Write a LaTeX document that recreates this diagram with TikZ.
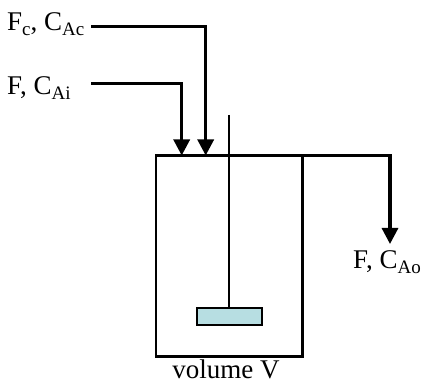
\documentclass[tikz,border=0pt]{standalone}
\usepackage{fontspec}
\setmainfont{Liberation Serif}
\usetikzlibrary{arrows.meta}

\newcommand{\lowsub}[1]{\raisebox{-5.5pt}{\fontsize{19}{19}\selectfont #1}}

\begin{document}
\begin{tikzpicture}[x=1pt,y=-1pt,
  flow/.style={line width=3.2pt,-{Triangle[width=16pt,length=16pt]}},
  thin/.style={line width=2.2pt},
  lbl/.style={font=\fontsize{27}{30}\selectfont,inner sep=0pt,anchor=base west}]

\useasboundingbox (0,0) rectangle (421,385);

\node [thin,draw,outer sep=0pt,minimum width=146.5pt,minimum height=201pt,inner sep=0pt] (tank) at (229.25,256) {};
\node [thin,draw,outer sep=0pt,fill={rgb,255:red,183;green,222;blue,226},minimum width=65pt,minimum height=17pt,inner sep=0pt] (paddle) at (229.2,316.5) {};

\node [lbl] (feedc) at (7,30.5) {F\lowsub{c}, C\lowsub{Ac}};
\node [lbl] (feed) at (7,94.3) {F, C\lowsub{Ai}};
\node [lbl] (prod) at (353,268.3) {F, C\lowsub{Ao}};
\node [lbl,anchor=base] (vol) at (226,378) {volume V};

\coordinate (shafttop) at (228.7,115);
\coordinate (feedcstart) at (91,26.7);
\coordinate (feedstart) at (91,83.3);
\coordinate (feedcin) at (205.7,155.5);
\coordinate (feedin) at (181.7,155.5);
\coordinate (prodout) at (390,244);

\draw[thin] (shafttop) -- (paddle.north -| shafttop);
\draw[flow] (feedcstart) -| (feedcin);
\draw[flow] (feedstart) -| (feedin);
\draw[thin] (tank.north east) -- (tank.north east -| prodout);
\draw[flow] ([yshift=1.1pt]tank.north east -| prodout) -- (prodout);

\end{tikzpicture}
\end{document}
